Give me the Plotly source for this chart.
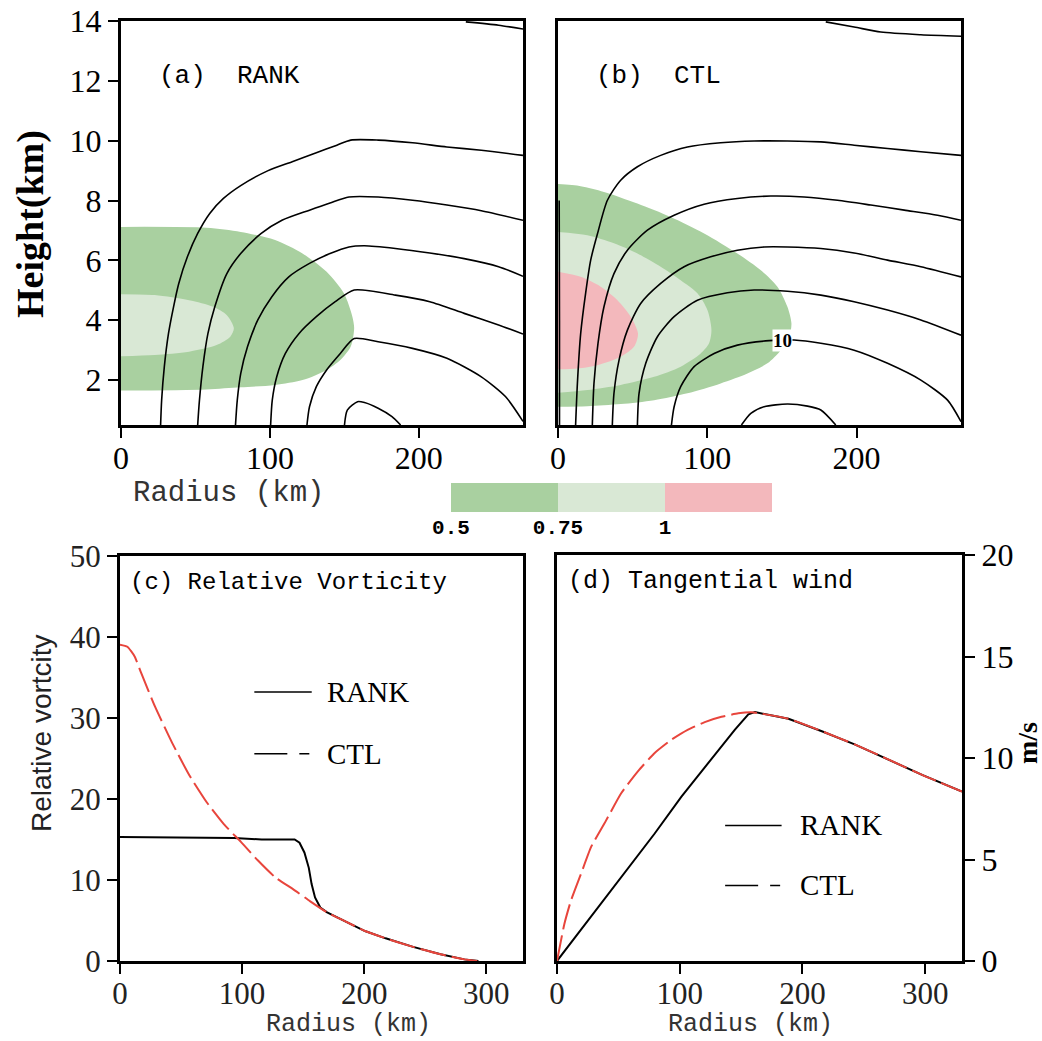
import plotly.graph_objects as go

# ---------------- Panel (a) RANK : tangential-wind contours (radius km, height km)
a_l1_r = [26.6, 27.3, 29.1, 31.9, 35.3, 38.8, 44.6, 51.5, 59.6, 68.8, 80.4, 98.8, 115, 131.2, 145, 154.3, 172.7, 195.8, 218.9, 242, 270]
a_l1_h = [0.5, 1.33, 2.45, 3.56, 4.45, 5.23, 6.12, 6.90, 7.57, 8.07, 8.50, 9.0, 9.30, 9.60, 9.85, 10.02, 10.02, 9.93, 9.79, 9.68, 9.51]
a_l2_r = [51.5, 52.7, 55, 58.4, 63, 71.1, 80.4, 94.2, 108.1, 126.6, 140.4, 153.1, 172.7, 195.8, 218.9, 242, 270]
a_l2_h = [0.5, 1.33, 2.45, 3.56, 4.45, 5.56, 6.23, 6.90, 7.34, 7.68, 7.92, 8.12, 8.12, 8.01, 7.85, 7.66, 7.34]
a_l3_r = [76.9, 78.1, 80.4, 85, 91.9, 101.2, 112.7, 126.6, 140.4, 153.1, 163.5, 184.3, 207.4, 230.5, 253.6, 270]
a_l3_h = [0.5, 1.33, 2.22, 3.12, 4.01, 4.78, 5.45, 5.90, 6.23, 6.45, 6.49, 6.40, 6.25, 6.06, 5.79, 5.47]
a_l4_r = [100.5, 101.6, 104.6, 110.4, 119.6, 131.2, 143.9, 156.6, 184.3, 207.4, 230.5, 253.6, 270]
a_l4_h = [0.5, 1.33, 2.11, 2.89, 3.56, 4.12, 4.62, 5.01, 4.84, 4.62, 4.23, 3.84, 3.54]
a_l5_r = [124.9, 126.6, 131.2, 138.1, 147.3, 156.6, 172.7, 195.8, 218.9, 242, 258.2, 270]
a_l5_h = [0.5, 1.11, 1.78, 2.34, 2.89, 3.39, 3.28, 3.06, 2.73, 2.11, 1.45, 0.62]
a_l6_r = [150.1, 152, 158.9, 163.5, 172.7, 182, 187.8]
a_l6_h = [0.5, 1.0, 1.28, 1.25, 1.06, 0.78, 0.5]
a_l7_r = [231.6, 253.6, 270]
a_l7_h = [13.97, 13.86, 13.73]

# shaded ratio regions of panel (a): 0.5-0.75 and 0.75-1
a_s1_r = [0, 57.3, 80.4, 103.5, 121.9, 138.1, 149.7, 155.4, 156.6, 154.3, 147.3, 138.1, 121.9, 103.5, 80.4, 57.3, 0]
a_s1_h = [7.12, 7.09, 6.95, 6.68, 6.23, 5.62, 4.90, 4.12, 3.73, 3.12, 2.67, 2.34, 2.0, 1.84, 1.76, 1.69, 1.65]
a_s2_r = [0, 22.6, 45.7, 61.9, 71.1, 75.8, 73.4, 64.2, 45.7, 22.6, 0]
a_s2_h = [4.87, 4.84, 4.67, 4.45, 4.17, 3.73, 3.45, 3.17, 2.95, 2.84, 2.80]

# ---------------- Panel (b) CTL
b_l0_r = [1.0, 1.0, 0.8]
b_l0_h = [0.5, 4.0, 8.0]
b_l1_r = [11.8, 13.0, 15.2, 18.5, 21.9, 26.4, 33.1, 42, 53.2, 68.8, 86.7, 109, 131.4, 153.7, 176.1, 198.4, 220.8, 243.1, 270]
b_l1_h = [0.5, 1.89, 3.56, 4.90, 6.01, 6.88, 8.01, 8.68, 9.13, 9.51, 9.79, 9.93, 9.99, 9.99, 9.96, 9.85, 9.74, 9.63, 9.51]
b_l2_r = [23, 24.1, 26.8, 30.8, 37.5, 46.5, 59.9, 77.8, 97.9, 120.2, 142.6, 164.9, 187.3, 209.6, 232, 254.3, 270]
b_l2_h = [0.5, 1.89, 3.23, 4.45, 5.56, 6.34, 7.01, 7.51, 7.88, 8.07, 8.15, 8.12, 8.01, 7.85, 7.68, 7.51, 7.34]
b_l3_r = [36.4, 37.5, 40.9, 46.5, 55.4, 68.8, 84.5, 102.3, 120.2, 138.1, 153.7, 176.1, 198.4, 220.8, 243.1, 270]
b_l3_h = [0.5, 1.56, 2.67, 3.67, 4.56, 5.23, 5.79, 6.12, 6.34, 6.45, 6.45, 6.40, 6.25, 6.01, 5.79, 5.45]
b_l4_r = [53.2, 54.3, 58.8, 66.6, 77.8, 93.4, 113.5, 131.4, 153.7, 176.1, 198.4, 220.8, 243.1, 270]
b_l4_h = [0.5, 1.56, 2.56, 3.45, 4.12, 4.67, 4.92, 5.01, 4.97, 4.84, 4.62, 4.34, 4.01, 3.50]
b_l5_r = [76, 77.8, 82.2, 91.2, 104.6, 120.2, 141.5, 158.2, 176.1, 198.4, 220.8, 243.1, 261, 270]
b_l5_h = [0.5, 1.11, 1.78, 2.45, 2.89, 3.17, 3.32, 3.34, 3.23, 3.00, 2.56, 2.0, 1.33, 0.61]
b_l6_r = [122.9, 129.2, 138.1, 153.7, 167.2, 176.1, 186.1]
b_l6_h = [0.5, 0.89, 1.11, 1.20, 1.13, 1.0, 0.5]
b_l7_r = [179.4, 198.4, 216.3, 243.1, 270]
b_l7_h = [13.97, 13.80, 13.63, 13.54, 13.49]
b_label_r = [150.4]
b_label_h = [3.33]
b_label_txt = ["10"]

b_s1_r = [0, 15.2, 30.8, 53.2, 75.5, 97.9, 120.2, 135.9, 147, 153.7, 156.4, 154.9, 149.3, 140.3, 126.9, 109, 86.7, 64.4, 42, 19.7, 0]
b_s1_h = [8.55, 8.48, 8.29, 7.90, 7.45, 6.90, 6.23, 5.67, 5.12, 4.45, 3.89, 3.45, 3.00, 2.56, 2.22, 1.89, 1.56, 1.33, 1.20, 1.13, 1.11]
b_s2_r = [0, 19.7, 37.5, 53.2, 68.8, 82.2, 93.4, 100.1, 102.8, 101.2, 95.6, 82.2, 64.4, 42, 19.7, 0]
b_s2_h = [6.95, 6.84, 6.57, 6.23, 5.79, 5.34, 4.90, 4.34, 3.67, 3.23, 2.89, 2.45, 2.11, 1.84, 1.67, 1.58]
b_s3_r = [0, 15.2, 28.6, 39.8, 48.7, 53.6, 51, 42, 26.4, 13, 0]
b_s3_h = [5.62, 5.45, 5.12, 4.67, 4.12, 3.56, 3.12, 2.78, 2.50, 2.39, 2.36]

# colour bar
cb_levels = ["0.5", "0.75", "1"]
cb_colors = ["#a9d0a0", "#d9e8d5", "#f3b8bc"]

# ---------------- Panel (c) relative vorticity
c_rank_r = [0, 93.5, 116, 140, 143, 147, 151, 154.6, 156.9, 159.7, 164, 169.6, 183.7, 200.6, 217.5, 240, 262.5, 282, 293.5]
c_rank_v = [15.3, 15.2, 15.0, 14.96, 15.0, 14.6, 13.4, 11.5, 9.5, 7.85, 6.6, 6.0, 4.96, 3.7, 2.8, 1.74, 0.83, 0.2, 0]
c_ctl_r = [0, 6, 12, 17.5, 28.7, 42.8, 56.9, 71, 85, 99, 113, 127.3, 141.4, 155.5, 169.6, 183.7, 200.6, 217.5, 240, 262.5, 282, 293.5]
c_ctl_v = [39.05, 38.8, 37.6, 35.5, 31.4, 26.9, 22.9, 19.6, 16.9, 14.7, 12.4, 10.3, 8.9, 7.4, 6.0, 4.96, 3.7, 2.8, 1.74, 0.83, 0.2, 0]

# ---------------- Panel (d) tangential wind
d_rank_r = [0, 25, 52.3, 79.6, 101.4, 123, 145, 155.9, 161.3, 188.6, 215.8, 243, 270.3, 297.5, 330]
d_rank_v = [0, 1.98, 4.13, 6.28, 8.1, 9.75, 11.4, 12.15, 12.26, 11.93, 11.32, 10.66, 9.92, 9.17, 8.35]
d_ctl_r = [0, 6, 11.4, 19.6, 27.8, 38.7, 52.3, 65.9, 79.6, 93.2, 106.8, 120.4, 134, 147.7, 158.6, 188.6, 215.8, 243, 270.3, 297.5, 330]
d_ctl_v = [0, 1.82, 2.98, 4.3, 5.62, 6.78, 8.26, 9.34, 10.25, 10.9, 11.4, 11.77, 12.03, 12.2, 12.25, 11.93, 11.32, 10.66, 9.92, 9.17, 8.35]

RED = "#e8453c"
SERIF = "Liberation Serif"
MONO = "Liberation Mono"

fig = go.Figure()


def shade(r, h, color, xa, ya):
    fig.add_trace(go.Scatter(x=r, y=h, mode="lines", fill="toself", fillcolor=color,
                             line=dict(width=0, shape="spline", smoothing=0.8), hoverinfo="skip",
                             showlegend=False, xaxis=xa, yaxis=ya))


def cline(r, h, xa, ya):
    fig.add_trace(go.Scatter(x=r, y=h, mode="lines",
                             line=dict(color="black", width=1.6, shape="spline", smoothing=0.7),
                             hoverinfo="skip", showlegend=False, xaxis=xa, yaxis=ya))


# panel (a)
shade(a_s1_r, a_s1_h, cb_colors[0], "x", "y")
shade(a_s2_r, a_s2_h, cb_colors[1], "x", "y")
for r, h in [(a_l1_r, a_l1_h), (a_l2_r, a_l2_h), (a_l3_r, a_l3_h), (a_l4_r, a_l4_h),
             (a_l5_r, a_l5_h), (a_l6_r, a_l6_h), (a_l7_r, a_l7_h)]:
    cline(r, h, "x", "y")

# panel (b)
shade(b_s1_r, b_s1_h, cb_colors[0], "x2", "y2")
shade(b_s2_r, b_s2_h, cb_colors[1], "x2", "y2")
shade(b_s3_r, b_s3_h, cb_colors[2], "x2", "y2")
for r, h in [(b_l0_r, b_l0_h), (b_l1_r, b_l1_h), (b_l2_r, b_l2_h), (b_l3_r, b_l3_h),
             (b_l4_r, b_l4_h), (b_l5_r, b_l5_h), (b_l6_r, b_l6_h), (b_l7_r, b_l7_h)]:
    cline(r, h, "x2", "y2")

# panel (c)
fig.add_trace(go.Scatter(x=c_rank_r, y=c_rank_v, mode="lines", line=dict(color="black", width=2),
                         showlegend=False, xaxis="x3", yaxis="y3"))
fig.add_trace(go.Scatter(x=c_ctl_r, y=c_ctl_v, mode="lines",
                         line=dict(color=RED, width=2, dash="26px,6px", shape="spline", smoothing=0.5),
                         showlegend=False, xaxis="x3", yaxis="y3"))

# panel (d)
fig.add_trace(go.Scatter(x=d_rank_r, y=d_rank_v, mode="lines", line=dict(color="black", width=2),
                         showlegend=False, xaxis="x4", yaxis="y4"))
fig.add_trace(go.Scatter(x=d_ctl_r, y=d_ctl_v, mode="lines",
                         line=dict(color=RED, width=2, dash="26px,6px", shape="spline", smoothing=0.5),
                         showlegend=False, xaxis="x4", yaxis="y4"))

# colour bar
fig.add_trace(go.Heatmap(z=[[0, 1, 2]], x=[0.5, 1.5, 2.5], y=[0],
                         colorscale=[[0, cb_colors[0]], [1 / 3, cb_colors[0]], [1 / 3, cb_colors[1]],
                                     [2 / 3, cb_colors[1]], [2 / 3, cb_colors[2]], [1, cb_colors[2]]],
                         zmin=0, zmax=2, showscale=False, hoverinfo="skip", xaxis="x5", yaxis="y5"))

W, H = 1042, 1041


def px_x(a, b):
    return [a / W, b / W]


def px_y(top, bottom):
    return [1 - bottom / H, 1 - top / H]


frame = dict(showline=True, mirror=True, linewidth=3, linecolor="black", showgrid=False,
             zeroline=False, ticks="outside", ticklen=10, tickwidth=2, tickcolor="black",
             automargin=False)
xframe = dict(frame, ticklabelstandoff=-7)
tickfont_top = dict(family=SERIF, size=32, color="black")
tickfont_bot = dict(family=SERIF, size=31, color="#222222")

fig.update_layout(
    width=W, height=H, margin=dict(l=0, r=0, t=0, b=0, autoexpand=False),
    paper_bgcolor="white", plot_bgcolor="white", showlegend=False,
    xaxis=dict(xframe, domain=px_x(121, 523), range=[0, 270], tickvals=[0, 100, 200], tickfont=tickfont_top, anchor="y"),
    yaxis=dict(frame, domain=px_y(21, 425), range=[0.5, 14], tickvals=[2, 4, 6, 8, 10, 12, 14], tickfont=tickfont_top, anchor="x"),
    xaxis2=dict(xframe, domain=px_x(558, 961), range=[0, 270], tickvals=[0, 100, 200], tickfont=tickfont_top, anchor="y2"),
    yaxis2=dict(frame, domain=px_y(21, 425), range=[0.5, 14], ticks="", showticklabels=False, anchor="x2"),
    xaxis3=dict(xframe, domain=px_x(120, 523), range=[0, 330], tickvals=[0, 100, 200, 300], tickfont=tickfont_bot, anchor="y3"),
    yaxis3=dict(frame, domain=px_y(556, 961), range=[0, 50], tickvals=[0, 10, 20, 30, 40, 50], tickfont=tickfont_bot, anchor="x3"),
    xaxis4=dict(xframe, domain=px_x(557, 962), range=[0, 330], tickvals=[0, 100, 200, 300], tickfont=tickfont_bot, anchor="y4"),
    yaxis4=dict(frame, domain=px_y(555, 961), range=[0, 20], tickvals=[0, 5, 10, 15, 20], tickfont=tickfont_top, side="right", anchor="x4"),
    xaxis5=dict(domain=px_x(451, 772), range=[0, 3], tickvals=[0, 1, 2], ticktext=cb_levels, ticks="",
                showline=False, showgrid=False, zeroline=False, automargin=False,
                tickfont=dict(family=MONO, size=21, color="black", weight="bold"), anchor="y5"),
    yaxis5=dict(domain=px_y(483, 512), range=[-0.5, 0.5], showticklabels=False, ticks="", showgrid=False,
                zeroline=False, showline=False, automargin=False, anchor="x5"),
)

# contour label with white box
fig.add_annotation(text=b_label_txt[0], x=b_label_r[0], y=b_label_h[0], xref="x2", yref="y2", showarrow=False,
                   bgcolor="white", borderpad=0, font=dict(family=SERIF, size=19, color="black", weight="bold"))

# legend samples drawn in panel data space
fig.add_shape(type="line", xref="x3", yref="y3", x0=110, x1=157, y0=33.2, y1=33.2, line=dict(color="black", width=1.5))
fig.add_shape(type="line", xref="x3", yref="y3", x0=110, x1=157, y0=25.6, y1=25.6, line=dict(color="black", width=1.5, dash="33px,12px,10px"))
fig.add_shape(type="line", xref="x4", yref="y4", x0=137, x1=183, y0=6.68, y1=6.68, line=dict(color="black", width=1.5))
fig.add_shape(type="line", xref="x4", yref="y4", x0=137, x1=183, y0=3.72, y1=3.72, line=dict(color="black", width=1.5, dash="33px,12px,10px"))


def ann(text, x, y, xref, yref, size, family=MONO, xanchor="left", angle=0, color="black", weight="normal"):
    fig.add_annotation(text=text, x=x, y=y, xref=xref, yref=yref, showarrow=False, xanchor=xanchor,
                       yanchor="middle", textangle=angle,
                       font=dict(family=family, size=size, color=color, weight=weight))


ann("RANK", 168, 33.2, "x3", "y3", 29, family=SERIF)
ann("CTL", 168, 25.6, "x3", "y3", 29, family=SERIF)
ann("RANK", 196.7, 6.68, "x4", "y4", 29, family=SERIF)
ann("CTL", 196.7, 3.72, "x4", "y4", 29, family=SERIF)

ann("(a)  RANK", 24, 12.16, "x", "y", 26)
ann("(b)  CTL", 24, 12.16, "x2", "y2", 26)
ann("(c) Relative Vorticity", 6.5, 46.7, "x3", "y3", 24)
ann("(d) Tangential wind", 7, 18.68, "x4", "y4", 25)

ann("Height(km)", 31 / W, 1 - 224 / H, "paper", "paper", 38, family=SERIF, xanchor="center", angle=-90, weight="bold")
ann("Relative vortcity", 41 / W, 1 - 733 / H, "paper", "paper", 28, family="Liberation Sans", xanchor="center", angle=-90, color="#222222")
ann("m/s", 1027 / W, 1 - 743 / H, "paper", "paper", 28, family=SERIF, xanchor="center", angle=-90, weight="bold")
ann("Radius (km)", 228 / W, 1 - 493 / H, "paper", "paper", 29, xanchor="center", color="#333333")
ann("Radius (km)", 348 / W, 1 - 1024 / H, "paper", "paper", 25, xanchor="center", color="#333333")
ann("Radius (km)", 750 / W, 1 - 1024 / H, "paper", "paper", 25, xanchor="center", color="#333333")

fig.write_html("out.html")
